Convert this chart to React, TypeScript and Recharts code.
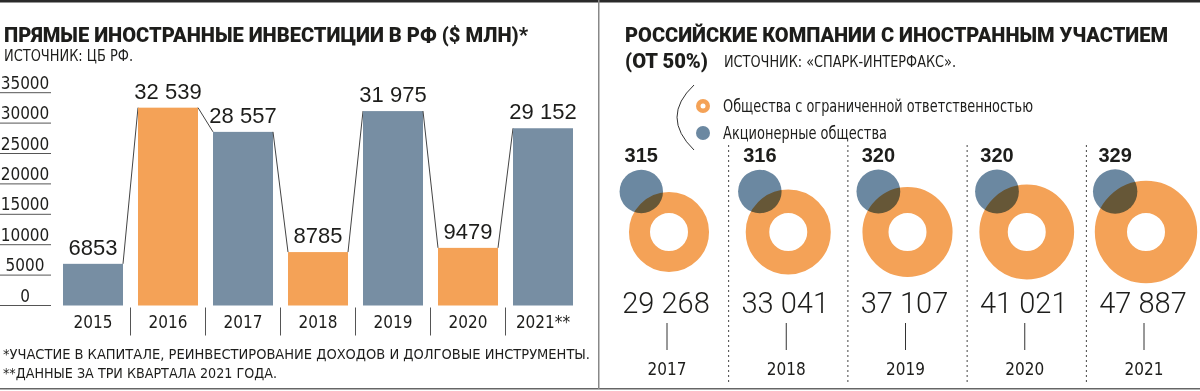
import {
  BarChart,
  Bar,
  Cell,
  XAxis,
  YAxis,
  LabelList,
  ScatterChart,
  Scatter,
  ZAxis,
} from "recharts";

// left panel: FDI, $ mln
const FDI_YEARS = ["2015", "2016", "2017", "2018", "2019", "2020", "2021**"];
const FDI_VALUES = [6853, 32539, 28557, 8785, 31975, 9479, 29152];
const FDI_ORANGE = [false, true, false, true, false, true, false];
const FDI_TICKS = [0, 5000, 10000, 15000, 20000, 25000, 30000, 35000];

// right panel: companies with foreign participation
const CO_YEARS = [2017, 2018, 2019, 2020, 2021];
const LLC_COUNTS = [29268, 33041, 37107, 41021, 47887];
const JSC_COUNTS = [315, 316, 320, 320, 329];

const fdiData = FDI_YEARS.map((year, i) => ({
  year,
  value: FDI_VALUES[i],
  orange: FDI_ORANGE[i],
}));
const coData = CO_YEARS.map((year, i) => ({
  year,
  row: 0,
  llc: LLC_COUNTS[i],
  jsc: JSC_COUNTS[i],
}));

const ORANGE = "#F4A257";
const SLATE = "#778EA3";
const BLUE = "#6B88A1";
const INK = "#1d1d1b";
const NARROW =
  "'Liberation Sans Narrow', 'DejaVu Sans Condensed', 'Arial Narrow', sans-serif";
const SANS = "'Liberation Sans', Arial, sans-serif";
const HEAVY = "Roboto, 'Liberation Sans', sans-serif";

const FDI_PLOT_W = 525;
const FDI_STEP = FDI_PLOT_W / FDI_YEARS.length;
const CO_PLOT_W = 477;
const CO_STEP = CO_PLOT_W / (CO_YEARS.length - 1);
const HOLE_R = 19;

function fmt(v: number) {
  if (v < 10000) return String(v);
  return `${Math.floor(v / 1000)} ${String(v % 1000).padStart(3, "0")}`;
}

function FdiYTick({ y, payload }: any) {
  return (
    <g>
      <line x1={0} x2={51} y1={y} y2={y} stroke="#555" strokeWidth={1} />
      <text
        x={25}
        y={y - 4}
        textAnchor="middle"
        fontFamily={NARROW}
        fontSize={17}
        fill={INK}
      >
        {payload.value}
      </text>
    </g>
  );
}

function FdiXTick({ x, y, payload, index }: any) {
  const sx = x - FDI_STEP / 2;
  return (
    <g>
      {index > 0 && (
        <line x1={sx} x2={sx} y1={y + 2} y2={y + 30} stroke="#555" />
      )}
      <text
        x={x}
        y={y + 22.5}
        textAnchor="middle"
        fontFamily={NARROW}
        fontSize={17}
        fill={INK}
      >
        {payload.value}
      </text>
    </g>
  );
}

function FdiBarShape(props: any) {
  const { x, y, width, height, index, fill, payload } = props;
  const next = FDI_VALUES[index + 1];
  const perUnit = height / payload.value;
  return (
    <g>
      <rect x={x} y={y} width={width} height={height} fill={fill} />
      {next !== undefined && (
        <line
          x1={x + width}
          y1={y}
          x2={x + FDI_STEP}
          y2={y + height - next * perUnit}
          stroke="#444"
          strokeWidth={1}
        />
      )}
    </g>
  );
}

function RingShape(props: any) {
  const { cx, cy, width, payload } = props;
  const r = width / 2;
  const first = payload.year === CO_YEARS[0];
  const sx = cx - CO_STEP / 2;
  return (
    <g>
      {!first && (
        <line
          x1={sx}
          x2={sx}
          y1={cy - 87}
          y2={cy + 150}
          stroke="#444"
          strokeWidth={1}
          strokeDasharray="2 3"
        />
      )}
      <circle
        cx={cx}
        cy={cy}
        r={(r + HOLE_R) / 2}
        fill="none"
        stroke={ORANGE}
        strokeWidth={r - HOLE_R}
      />
      <text
        x={cx - 3}
        y={cy + 81}
        textAnchor="middle"
        fontFamily={HEAVY}
        fontWeight={300}
        fontSize={29}
        fill={INK}
      >
        {fmt(payload.llc)}
      </text>
      <line x1={cx - 2} x2={cx - 2} y1={cy + 91} y2={cy + 118} stroke="#333" />
      <text
        x={cx - 2}
        y={cy + 143}
        textAnchor="middle"
        fontFamily={NARROW}
        fontSize={17}
        fill={INK}
      >
        {payload.year}
      </text>
    </g>
  );
}

function JscShape(props: any) {
  const { cx, cy, width, payload } = props;
  const ringR = Math.sqrt(payload.llc) * 0.234;
  const bx = cx - (16.5 + 0.28 * ringR);
  const by = cy - 40.5;
  return (
    <g>
      <circle
        cx={bx}
        cy={by}
        r={width / 2}
        fill={BLUE}
        style={{ mixBlendMode: "multiply" }}
      />
      <text
        x={bx}
        y={by - 29.5}
        textAnchor="middle"
        fontFamily={SANS}
        fontWeight="bold"
        fontSize={20}
        fill={INK}
      >
        {payload.jsc}
      </text>
    </g>
  );
}

function Frame() {
  return (
    <svg
      width={1200}
      height={391}
      style={{ position: "absolute", left: 0, top: 0, pointerEvents: "none" }}
    >
      <rect x={0} y={0} width={1200} height={2.5} fill="#2a2a2a" />
      <rect x={0} y={388} width={1200} height={1.5} fill="#666" />
      <rect x={598} y={0} width={1.5} height={389} fill="#888" />

      <text
        x={4}
        y={42}
        fontFamily={HEAVY}
        fontWeight={900}
        fontSize={20.5}
        fill={INK}
        textLength={524}
        lengthAdjust="spacingAndGlyphs"
      >
        ПРЯМЫЕ ИНОСТРАННЫЕ ИНВЕСТИЦИИ В РФ ($ МЛН)*
      </text>
      <text
        x={4}
        y={61}
        fontFamily={NARROW}
        fontSize={16}
        fill={INK}
        textLength={129}
        lengthAdjust="spacingAndGlyphs"
      >
        ИСТОЧНИК: ЦБ РФ.
      </text>

      <text
        x={3}
        y={359}
        fontFamily={NARROW}
        fontSize={14.5}
        fill={INK}
        textLength={587}
        lengthAdjust="spacingAndGlyphs"
      >
        *УЧАСТИЕ В КАПИТАЛЕ, РЕИНВЕСТИРОВАНИЕ ДОХОДОВ И ДОЛГОВЫЕ ИНСТРУМЕНТЫ.
      </text>
      <text
        x={3}
        y={378}
        fontFamily={NARROW}
        fontSize={14.5}
        fill={INK}
        textLength={274}
        lengthAdjust="spacingAndGlyphs"
      >
        **ДАННЫЕ ЗА ТРИ КВАРТАЛА 2021 ГОДА.
      </text>

      <text
        x={625}
        y={42}
        fontFamily={HEAVY}
        fontWeight={900}
        fontSize={20.5}
        fill={INK}
        textLength={543}
        lengthAdjust="spacingAndGlyphs"
      >
        РОССИЙСКИЕ КОМПАНИИ С ИНОСТРАННЫМ УЧАСТИЕМ
      </text>
      <text
        x={625}
        y={68}
        fontFamily={HEAVY}
        fontWeight={900}
        fontSize={20.5}
        fill={INK}
        textLength={83}
        lengthAdjust="spacingAndGlyphs"
      >
        (ОТ 50%)
      </text>
      <text
        x={724}
        y={67}
        fontFamily={NARROW}
        fontSize={16}
        fill={INK}
        textLength={232}
        lengthAdjust="spacingAndGlyphs"
      >
        ИСТОЧНИК: «СПАРК-ИНТЕРФАКС».
      </text>

      <path d="M694 85 Q660 117 694 150" fill="none" stroke="#333" />
      <circle cx={703} cy={106} r={7} fill={ORANGE} />
      <circle cx={703} cy={106} r={2.5} fill="#fff" />
      <circle cx={703} cy={133} r={7} fill={BLUE} />
      <text
        x={723}
        y={112}
        fontFamily={NARROW}
        fontSize={18}
        fill={INK}
        textLength={310}
        lengthAdjust="spacingAndGlyphs"
      >
        Общества с ограниченной ответственностью
      </text>
      <text
        x={723}
        y={139}
        fontFamily={NARROW}
        fontSize={18}
        fill={INK}
        textLength={164}
        lengthAdjust="spacingAndGlyphs"
      >
        Акционерные общества
      </text>
    </svg>
  );
}

export default function App() {
  return (
    <div
      style={{
        position: "absolute",
        left: 0,
        top: 0,
        width: 1200,
        height: 391,
        background: "#fff",
        overflow: "hidden",
      }}
    >
      <div style={{ position: "absolute", left: 0, top: 0 }}>
        <BarChart
          width={600}
          height={391}
          data={fdiData}
          margin={{ top: 92.7, right: 19.5, bottom: 55.5, left: 0 }}
          barCategoryGap="10%"
        >
          <YAxis
            width={55.5}
            domain={[0, 35000]}
            ticks={FDI_TICKS}
            interval={0}
            axisLine={false}
            tickLine={false}
            tick={<FdiYTick />}
          />
          <XAxis
            dataKey="year"
            height={30}
            interval={0}
            axisLine={false}
            tickLine={false}
            tickSize={0}
            tickMargin={0}
            tick={<FdiXTick />}
          />
          <Bar
            dataKey="value"
            isAnimationActive={false}
            shape={<FdiBarShape />}
          >
            {fdiData.map((d) => (
              <Cell key={d.year} fill={d.orange ? ORANGE : SLATE} />
            ))}
            <LabelList
              dataKey="value"
              position="top"
              offset={9}
              formatter={(v: any) => fmt(Number(v))}
              style={{ fontFamily: SANS, fontSize: 22, fill: INK }}
            />
          </Bar>
        </BarChart>
      </div>

      <div style={{ position: "absolute", left: 600, top: 0 }}>
        <ScatterChart
          width={600}
          height={391}
          margin={{ top: 182, right: 54, bottom: 109, left: 69 }}
        >
          <XAxis type="number" dataKey="year" domain={[2017, 2021]} hide />
          <YAxis type="number" dataKey="row" domain={[-1, 1]} hide />
          <ZAxis
            zAxisId="llc"
            type="number"
            dataKey="llc"
            domain={[0, 47887]}
            range={[0, Math.PI * 51.2 * 51.2]}
          />
          <ZAxis
            zAxisId="jsc"
            type="number"
            dataKey="jsc"
            domain={[0, 329]}
            range={[0, Math.PI * 22.2 * 22.2]}
          />
          <Scatter
            data={coData}
            zAxisId="llc"
            shape={<RingShape />}
            isAnimationActive={false}
          />
          <Scatter
            data={coData}
            zAxisId="jsc"
            shape={<JscShape />}
            isAnimationActive={false}
          />
        </ScatterChart>
      </div>

      <Frame />
    </div>
  );
}
